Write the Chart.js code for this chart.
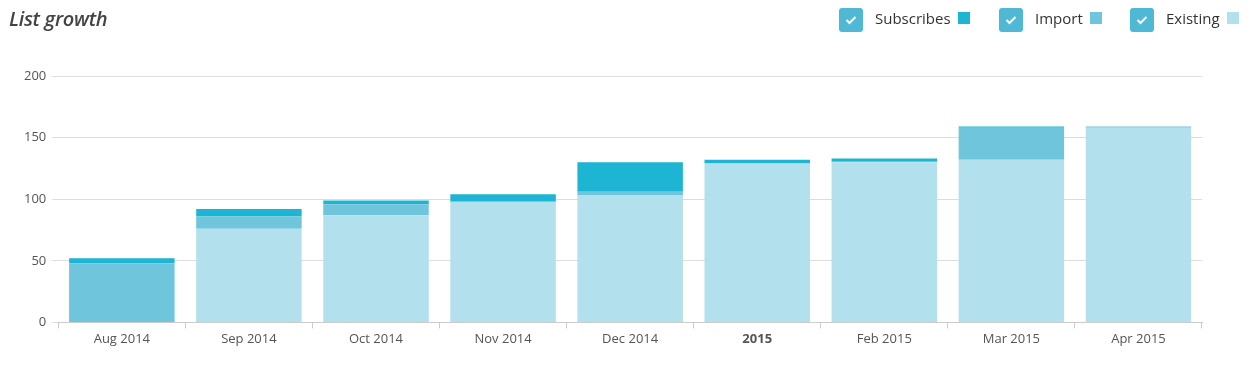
<!DOCTYPE html>
<html>
<head>
<meta charset="utf-8">
<script src="https://cdn.jsdelivr.net/npm/chart.js@4"></script>
<style>
  html, body { margin: 0; padding: 0; background: #fff; }
  body { width: 1251px; height: 370px; position: relative; overflow: hidden; font-family: "Open Sans", sans-serif; }
  #title { position: absolute; left: 9px; top: 5px; font-size: 20px; font-style: italic; font-weight: 600; color: #444; letter-spacing: -0.3px; }
  .lg { position: absolute; top: 8px; height: 24px; display: flex; align-items: center; font-size: 15px; color: #333; }
  .lg .t { position: relative; top: -2px; }
  .cb { width: 24px; height: 24px; border-radius: 3px; background: #4fb8d5; display: inline-block; position: relative; margin-right: 12px; }
  .cb svg { position: absolute; left: 6px; top: 7px; }
  .sw { width: 12px; height: 12px; display: inline-block; margin-left: 7px; position: relative; top: -2px; }
  #wrap { position: absolute; left: 0; top: 0; width: 1251px; height: 370px; }
</style>
</head>
<body>
<div id="wrap"><canvas id="c" width="1251" height="370"></canvas></div>
<div id="title">List growth</div>
<div class="lg" style="left:839px"><span class="cb"><svg width="12" height="10" viewBox="0 0 12 10"><path d="M1.5 5 L4.5 8 L10.5 2" stroke="#fff" stroke-width="2" fill="none"/></svg></span><span class="t">Subscribes</span><span class="sw" style="background:#1eb5d4"></span></div>
<div class="lg" style="left:999px"><span class="cb"><svg width="12" height="10" viewBox="0 0 12 10"><path d="M1.5 5 L4.5 8 L10.5 2" stroke="#fff" stroke-width="2" fill="none"/></svg></span><span class="t">Import</span><span class="sw" style="background:#6ec5dc"></span></div>
<div class="lg" style="left:1130px"><span class="cb"><svg width="12" height="10" viewBox="0 0 12 10"><path d="M1.5 5 L4.5 8 L10.5 2" stroke="#fff" stroke-width="2" fill="none"/></svg></span><span class="t">Existing</span><span class="sw" style="background:#b2e0ec"></span></div>
<script>
const categories = ["Aug 2014","Sep 2014","Oct 2014","Nov 2014","Dec 2014","2015","Feb 2015","Mar 2015","Apr 2015"];
const existing   = [0, 76, 87, 98, 103, 129, 130, 132, 158];
const imported   = [48, 10, 9, 0, 3, 0, 1, 26, 1];
const subscribes = [4, 6, 3, 6, 24, 3, 2, 1, 0];
const yTicks = [0, 50, 100, 150, 200];

new Chart(document.getElementById('c'), {
  type: 'bar',
  data: {
    labels: categories,
    datasets: [
      { label: 'Existing', data: existing, backgroundColor: '#b2e0ec', barPercentage: 0.83, categoryPercentage: 1 },
      { label: 'Import', data: imported, backgroundColor: '#6ec5dc', barPercentage: 0.83, categoryPercentage: 1 },
      { label: 'Subscribes', data: subscribes, backgroundColor: '#1eb5d4', barPercentage: 0.83, categoryPercentage: 1 }
    ]
  },
  options: {
    responsive: false,
    animation: false,
    layout: { padding: { top: 76, right: 49, left: 18, bottom: 20 } },
    plugins: { legend: { display: false }, tooltip: { enabled: false } },
    scales: {
      x: {
        stacked: true,
        border: { color: '#ccc', width: 1 },
        grid: { drawOnChartArea: false, tickLength: 6, color: '#ccc', offset: true },
        ticks: {
          color: '#555',
          padding: 3,
          font: ctx => ({ family: 'Open Sans', size: 13, weight: (ctx.tick && ctx.tick.label === '2015') ? 'bold' : 'normal' })
        }
      },
      y: {
        stacked: true,
        min: 0, max: 200,
        afterBuildTicks: axis => { axis.ticks = yTicks.map(v => ({ value: v })); },
        border: { display: false },
        grid: { color: '#ddd', tickLength: 6 },
        ticks: { color: '#555', padding: 6, font: { family: 'Open Sans', size: 13 } }
      }
    }
  }
});
</script>
</body>
</html>
